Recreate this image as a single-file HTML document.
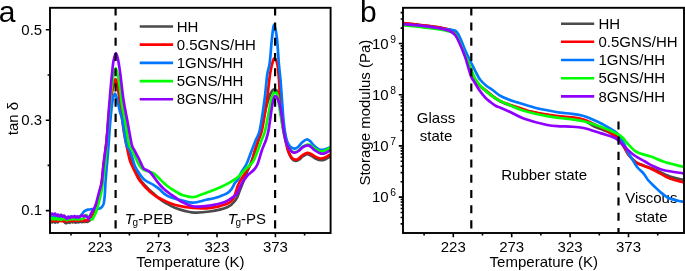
<!DOCTYPE html>
<html><head><meta charset="utf-8"><style>
html,body{margin:0;padding:0;background:#fff;width:685px;height:271px;overflow:hidden}
svg{display:block}
#w{width:685px;height:271px;will-change:transform}
text{fill:#000;font-family:"Liberation Sans",sans-serif}
</style></head><body><div id="w">
<svg width="685" height="271" viewBox="0 0 685 271" font-family="'Liberation Sans', sans-serif">
<defs>
<clipPath id="cl"><rect x="50" y="7.8" width="280.6" height="225.2"/></clipPath>
<clipPath id="cr"><rect x="403" y="7.8" width="281" height="225.2"/></clipPath>
</defs>
<rect width="685" height="271" fill="#fff"/>
<text x="651.3" y="203.2" font-size="15" text-anchor="middle" >Viscous</text>
<text x="651.3" y="221.8" font-size="15" text-anchor="middle" >state</text>
<g fill="none" stroke-width="2.7" stroke-linejoin="round" stroke-linecap="round">
<path d="M50.50,221.50 C50.75,221.65 51.50,222.43 52.00,222.40 C52.50,222.37 53.00,221.27 53.50,221.30 C54.00,221.33 54.50,222.55 55.00,222.60 C55.50,222.65 56.00,221.67 56.50,221.60 C57.00,221.53 57.50,222.55 58.00,222.20 C58.50,221.85 59.08,220.67 59.50,219.50 C59.92,218.33 60.08,215.82 60.50,215.20 C60.92,214.58 61.50,214.87 62.00,215.80 C62.50,216.73 63.00,219.67 63.50,220.80 C64.00,221.93 64.50,222.20 65.00,222.60 C65.50,223.00 66.00,223.28 66.50,223.20 C67.00,223.12 67.50,222.17 68.00,222.10 C68.50,222.03 69.00,222.88 69.50,222.80 C70.00,222.72 70.50,221.67 71.00,221.60 C71.50,221.53 72.00,222.42 72.50,222.40 C73.00,222.38 73.50,221.45 74.00,221.50 C74.50,221.55 75.00,222.65 75.50,222.70 C76.00,222.75 76.50,221.87 77.00,221.80 C77.50,221.73 78.00,222.37 78.50,222.30 C79.00,222.23 79.50,221.42 80.00,221.40 C80.50,221.38 81.00,222.18 81.50,222.20 C82.00,222.22 82.50,221.53 83.00,221.50 C83.50,221.47 84.00,222.05 84.50,222.00 C85.00,221.95 85.50,221.23 86.00,221.20 C86.50,221.17 87.00,221.83 87.50,221.80 C88.00,221.77 88.50,221.38 89.00,221.00 C89.50,220.62 90.00,220.20 90.50,219.50 C91.00,218.80 91.50,217.80 92.00,216.80 C92.50,215.80 93.00,214.63 93.50,213.50 C94.00,212.37 94.48,211.33 95.00,210.00 C95.52,208.67 96.13,206.83 96.60,205.50 C97.07,204.17 97.43,203.00 97.80,202.00 C98.17,201.00 98.33,201.50 98.80,199.50 C99.27,197.50 100.07,192.92 100.60,190.00 C101.13,187.08 101.43,186.17 102.00,182.00 C102.57,177.83 103.38,170.33 104.00,165.00 C104.62,159.67 105.10,155.83 105.70,150.00 C106.30,144.17 107.02,136.67 107.60,130.00 C108.18,123.33 108.55,116.17 109.20,110.00 C109.85,103.83 110.78,97.17 111.50,93.00 C112.22,88.83 112.82,86.92 113.50,85.00 C114.18,83.08 114.93,81.50 115.60,81.50 C116.27,81.50 116.93,82.75 117.50,85.00 C118.07,87.25 118.42,90.83 119.00,95.00 C119.58,99.17 120.12,104.17 121.00,110.00 C121.88,115.83 123.08,123.33 124.30,130.00 C125.52,136.67 127.22,145.00 128.30,150.00 C129.38,155.00 130.02,157.33 130.80,160.00 C131.58,162.67 132.05,163.83 133.00,166.00 C133.95,168.17 135.33,170.75 136.50,173.00 C137.67,175.25 138.67,177.50 140.00,179.50 C141.33,181.50 142.83,183.17 144.50,185.00 C146.17,186.83 148.48,189.08 150.00,190.50 C151.52,191.92 152.27,192.33 153.60,193.50 C154.93,194.67 156.10,196.00 158.00,197.50 C159.90,199.00 162.10,200.75 165.00,202.50 C167.90,204.25 170.93,206.37 175.40,208.00 C179.87,209.63 186.12,211.72 191.80,212.30 C197.48,212.88 203.60,212.33 209.50,211.50 C215.40,210.67 222.87,209.17 227.20,207.30 C231.53,205.43 233.37,203.18 235.50,200.30 C237.63,197.42 238.08,194.72 240.00,190.00 C241.92,185.28 245.00,177.00 247.00,172.00 C249.00,167.00 249.87,166.17 252.00,160.00 C254.13,153.83 257.55,143.33 259.80,135.00 C262.05,126.67 264.00,116.17 265.50,110.00 C267.00,103.83 267.72,101.17 268.80,98.00 C269.88,94.83 270.97,92.42 272.00,91.00 C273.03,89.58 274.00,89.17 275.00,89.50 C276.00,89.83 277.25,90.42 278.00,93.00 C278.75,95.58 279.00,101.33 279.50,105.00 C280.00,108.67 280.42,111.67 281.00,115.00 C281.58,118.33 282.42,122.17 283.00,125.00 C283.58,127.83 283.92,129.00 284.50,132.00 C285.08,135.00 285.75,139.50 286.50,143.00 C287.25,146.50 288.08,150.33 289.00,153.00 C289.92,155.67 290.92,157.67 292.00,159.00 C293.08,160.33 294.33,160.90 295.50,161.00 C296.67,161.10 297.75,160.40 299.00,159.60 C300.25,158.80 301.65,157.10 303.00,156.20 C304.35,155.30 305.77,154.30 307.10,154.20 C308.43,154.10 309.68,154.93 311.00,155.60 C312.32,156.27 313.43,157.43 315.00,158.20 C316.57,158.97 318.73,160.00 320.40,160.20 C322.07,160.40 323.40,160.02 325.00,159.40 C326.60,158.78 329.17,156.98 330.00,156.50" stroke="#4a4a4a" clip-path="url(#cl)"/>
<path d="M50.50,219.80 C50.75,220.05 51.50,221.23 52.00,221.30 C52.50,221.37 53.00,220.25 53.50,220.20 C54.00,220.15 54.50,220.97 55.00,221.00 C55.50,221.03 56.00,220.33 56.50,220.40 C57.00,220.47 57.50,221.45 58.00,221.40 C58.50,221.35 59.00,220.13 59.50,220.10 C60.00,220.07 60.50,221.12 61.00,221.20 C61.50,221.28 62.00,220.53 62.50,220.60 C63.00,220.67 63.50,221.65 64.00,221.60 C64.50,221.55 65.00,220.33 65.50,220.30 C66.00,220.27 66.50,221.37 67.00,221.40 C67.50,221.43 68.00,220.53 68.50,220.50 C69.00,220.47 69.50,221.28 70.00,221.20 C70.50,221.12 71.00,220.05 71.50,220.00 C72.00,219.95 72.50,220.87 73.00,220.90 C73.50,220.93 74.00,220.17 74.50,220.20 C75.00,220.23 75.50,221.15 76.00,221.10 C76.50,221.05 77.00,219.97 77.50,219.90 C78.00,219.83 78.50,220.67 79.00,220.70 C79.50,220.73 80.00,220.07 80.50,220.10 C81.00,220.13 81.50,220.88 82.00,220.90 C82.50,220.92 83.00,220.22 83.50,220.20 C84.00,220.18 84.50,220.85 85.00,220.80 C85.50,220.75 86.00,219.95 86.50,219.90 C87.00,219.85 87.50,220.62 88.00,220.50 C88.50,220.38 89.00,219.87 89.50,219.20 C90.00,218.53 90.48,217.53 91.00,216.50 C91.52,215.47 92.07,214.17 92.60,213.00 C93.13,211.83 93.63,210.83 94.20,209.50 C94.77,208.17 95.50,206.25 96.00,205.00 C96.50,203.75 96.82,202.92 97.20,202.00 C97.58,201.08 97.80,201.50 98.30,199.50 C98.80,197.50 99.63,192.92 100.20,190.00 C100.77,187.08 101.15,186.17 101.70,182.00 C102.25,177.83 102.87,170.33 103.50,165.00 C104.13,159.67 104.63,157.50 105.50,150.00 C106.37,142.50 107.82,128.33 108.70,120.00 C109.58,111.67 110.18,105.00 110.80,100.00 C111.42,95.00 111.87,93.00 112.40,90.00 C112.93,87.00 113.53,83.78 114.00,82.00 C114.47,80.22 114.77,79.47 115.20,79.30 C115.63,79.13 116.08,79.22 116.60,81.00 C117.12,82.78 117.73,86.83 118.30,90.00 C118.87,93.17 119.12,93.33 120.00,100.00 C120.88,106.67 122.35,121.67 123.60,130.00 C124.85,138.33 126.47,145.00 127.50,150.00 C128.53,155.00 129.02,157.33 129.80,160.00 C130.58,162.67 131.25,163.83 132.20,166.00 C133.15,168.17 134.40,170.78 135.50,173.00 C136.60,175.22 137.55,177.38 138.80,179.30 C140.05,181.22 141.52,182.80 143.00,184.50 C144.48,186.20 146.23,188.03 147.70,189.50 C149.17,190.97 150.25,192.05 151.80,193.30 C153.35,194.55 155.03,195.83 157.00,197.00 C158.97,198.17 160.53,198.97 163.60,200.30 C166.67,201.63 170.50,203.72 175.40,205.00 C180.30,206.28 187.12,207.52 193.00,208.00 C198.88,208.48 205.00,208.60 210.70,207.90 C216.40,207.20 223.48,205.27 227.20,203.80 C230.92,202.33 231.62,200.90 233.00,199.10 C234.38,197.30 234.50,195.68 235.50,193.00 C236.50,190.32 237.05,186.83 239.00,183.00 C240.95,179.17 245.07,173.50 247.20,170.00 C249.33,166.50 250.50,165.33 251.80,162.00 C253.10,158.67 253.88,153.67 255.00,150.00 C256.12,146.33 257.33,143.33 258.50,140.00 C259.67,136.67 260.60,136.67 262.00,130.00 C263.40,123.33 265.53,109.50 266.90,100.00 C268.27,90.50 269.18,79.50 270.20,73.00 C271.22,66.50 272.20,63.42 273.00,61.00 C273.80,58.58 274.25,57.83 275.00,58.50 C275.75,59.17 276.83,61.42 277.50,65.00 C278.17,68.58 278.58,74.17 279.00,80.00 C279.42,85.83 279.63,94.17 280.00,100.00 C280.37,105.83 280.78,110.83 281.20,115.00 C281.62,119.17 282.03,122.17 282.50,125.00 C282.97,127.83 283.42,129.00 284.00,132.00 C284.58,135.00 285.25,139.67 286.00,143.00 C286.75,146.33 287.50,149.50 288.50,152.00 C289.50,154.50 290.83,156.72 292.00,158.00 C293.17,159.28 294.33,159.65 295.50,159.70 C296.67,159.75 297.75,159.12 299.00,158.30 C300.25,157.48 301.65,155.72 303.00,154.80 C304.35,153.88 305.77,152.93 307.10,152.80 C308.43,152.67 309.68,153.38 311.00,154.00 C312.32,154.62 313.43,155.75 315.00,156.50 C316.57,157.25 318.73,158.33 320.40,158.50 C322.07,158.67 323.40,158.13 325.00,157.50 C326.60,156.87 329.17,155.17 330.00,154.70" stroke="#ff0000" clip-path="url(#cl)"/>
<path d="M50.50,216.50 C50.75,216.68 51.50,217.62 52.00,217.60 C52.50,217.58 53.00,216.37 53.50,216.40 C54.00,216.43 54.50,217.73 55.00,217.80 C55.50,217.87 56.00,216.85 56.50,216.80 C57.00,216.75 57.50,217.58 58.00,217.50 C58.50,217.42 59.00,216.32 59.50,216.30 C60.00,216.28 60.50,217.33 61.00,217.40 C61.50,217.47 62.00,216.62 62.50,216.70 C63.00,216.78 63.50,217.87 64.00,217.90 C64.50,217.93 65.00,216.95 65.50,216.90 C66.00,216.85 66.50,217.65 67.00,217.60 C67.50,217.55 68.00,216.65 68.50,216.60 C69.00,216.55 69.50,217.32 70.00,217.30 C70.50,217.28 71.00,216.48 71.50,216.50 C72.00,216.52 72.50,217.38 73.00,217.40 C73.50,217.42 74.00,216.63 74.50,216.60 C75.00,216.57 75.50,217.23 76.00,217.20 C76.50,217.17 77.00,216.45 77.50,216.40 C78.00,216.35 78.50,216.97 79.00,216.90 C79.50,216.83 79.92,216.57 80.50,216.00 C81.08,215.43 81.83,214.30 82.50,213.50 C83.17,212.70 83.58,211.85 84.50,211.20 C85.42,210.55 86.75,209.93 88.00,209.60 C89.25,209.27 90.83,209.30 92.00,209.20 C93.17,209.10 94.08,209.07 95.00,209.00 C95.92,208.93 96.72,208.87 97.50,208.80 C98.28,208.73 98.95,208.93 99.70,208.60 C100.45,208.27 101.35,207.57 102.00,206.80 C102.65,206.03 103.18,205.47 103.60,204.00 C104.02,202.53 104.25,200.33 104.50,198.00 C104.75,195.67 104.93,192.67 105.10,190.00 C105.27,187.33 105.20,186.17 105.50,182.00 C105.80,177.83 106.45,170.33 106.90,165.00 C107.35,159.67 107.62,157.50 108.20,150.00 C108.78,142.50 109.68,128.17 110.40,120.00 C111.12,111.83 111.73,105.40 112.50,101.00 C113.27,96.60 114.17,93.60 115.00,93.60 C115.83,93.60 116.67,97.93 117.50,101.00 C118.33,104.07 119.20,108.83 120.00,112.00 C120.80,115.17 121.25,114.67 122.30,120.00 C123.35,125.33 125.08,139.00 126.30,144.00 C127.52,149.00 128.58,147.67 129.60,150.00 C130.62,152.33 131.52,155.33 132.40,158.00 C133.28,160.67 133.97,163.75 134.90,166.00 C135.83,168.25 136.90,169.73 138.00,171.50 C139.10,173.27 140.42,175.22 141.50,176.60 C142.58,177.98 143.47,178.92 144.50,179.80 C145.53,180.68 146.28,181.10 147.70,181.90 C149.12,182.70 151.53,183.75 153.00,184.60 C154.47,185.45 155.32,186.13 156.50,187.00 C157.68,187.87 158.92,188.77 160.10,189.80 C161.28,190.83 161.95,192.00 163.60,193.20 C165.25,194.40 167.05,195.82 170.00,197.00 C172.95,198.18 177.47,199.35 181.30,200.30 C185.13,201.25 188.80,202.78 193.00,202.70 C197.20,202.62 203.17,200.50 206.50,199.80 C209.83,199.10 210.78,199.07 213.00,198.50 C215.22,197.93 217.48,197.27 219.80,196.40 C222.12,195.53 224.98,194.48 226.90,193.30 C228.82,192.12 229.97,191.00 231.30,189.30 C232.63,187.60 233.72,184.87 234.90,183.10 C236.08,181.33 237.33,180.47 238.40,178.70 C239.47,176.93 239.95,174.95 241.30,172.50 C242.65,170.05 245.05,166.92 246.50,164.00 C247.95,161.08 248.45,159.00 250.00,155.00 C251.55,151.00 254.17,144.17 255.80,140.00 C257.43,135.83 258.35,136.67 259.80,130.00 C261.25,123.33 263.27,109.17 264.50,100.00 C265.73,90.83 266.33,81.17 267.20,75.00 C268.07,68.83 268.92,69.00 269.70,63.00 C270.48,57.00 271.15,45.42 271.90,39.00 C272.65,32.58 273.35,24.50 274.20,24.50 C275.05,24.50 276.23,32.58 277.00,39.00 C277.77,45.42 278.22,56.17 278.80,63.00 C279.38,69.83 279.97,73.83 280.50,80.00 C281.03,86.17 281.50,93.33 282.00,100.00 C282.50,106.67 283.00,114.67 283.50,120.00 C284.00,125.33 284.42,128.50 285.00,132.00 C285.58,135.50 286.17,138.58 287.00,141.00 C287.83,143.42 288.77,145.23 290.00,146.50 C291.23,147.77 293.07,148.52 294.40,148.60 C295.73,148.68 296.73,148.02 298.00,147.00 C299.27,145.98 300.58,143.75 302.00,142.50 C303.42,141.25 305.17,139.75 306.50,139.50 C307.83,139.25 308.75,140.00 310.00,141.00 C311.25,142.00 312.37,144.05 314.00,145.50 C315.63,146.95 317.97,149.07 319.80,149.70 C321.63,150.33 323.30,149.70 325.00,149.30 C326.70,148.90 329.17,147.63 330.00,147.30" stroke="#0077ff" clip-path="url(#cl)"/>
<path d="M50.50,217.50 C50.75,217.80 51.50,219.18 52.00,219.30 C52.50,219.42 53.00,218.17 53.50,218.20 C54.00,218.23 54.50,219.48 55.00,219.50 C55.50,219.52 56.00,218.28 56.50,218.30 C57.00,218.32 57.50,219.55 58.00,219.60 C58.50,219.65 59.00,218.57 59.50,218.60 C60.00,218.63 60.50,219.83 61.00,219.80 C61.50,219.77 62.00,218.50 62.50,218.40 C63.00,218.30 63.50,219.12 64.00,219.20 C64.50,219.28 65.00,218.73 65.50,218.90 C66.00,219.07 66.50,220.22 67.00,220.20 C67.50,220.18 68.00,218.90 68.50,218.80 C69.00,218.70 69.50,219.65 70.00,219.60 C70.50,219.55 71.00,218.55 71.50,218.50 C72.00,218.45 72.50,219.28 73.00,219.30 C73.50,219.32 74.00,218.57 74.50,218.60 C75.00,218.63 75.50,219.48 76.00,219.50 C76.50,219.52 77.00,218.72 77.50,218.70 C78.00,218.68 78.50,219.43 79.00,219.40 C79.50,219.37 80.00,218.53 80.50,218.50 C81.00,218.47 81.50,219.25 82.00,219.20 C82.50,219.15 83.00,218.65 83.50,218.20 C84.00,217.75 84.50,217.03 85.00,216.50 C85.50,215.97 86.00,214.95 86.50,215.00 C87.00,215.05 87.50,216.20 88.00,216.80 C88.50,217.40 89.00,218.18 89.50,218.60 C90.00,219.02 90.50,219.20 91.00,219.30 C91.50,219.40 92.05,219.58 92.50,219.20 C92.95,218.82 93.25,217.87 93.70,217.00 C94.15,216.13 94.72,215.08 95.20,214.00 C95.68,212.92 96.17,211.83 96.60,210.50 C97.03,209.17 97.32,207.75 97.80,206.00 C98.28,204.25 98.83,202.67 99.50,200.00 C100.17,197.33 101.22,193.33 101.80,190.00 C102.38,186.67 102.38,185.00 103.00,180.00 C103.62,175.00 104.58,170.00 105.50,160.00 C106.42,150.00 107.42,132.50 108.50,120.00 C109.58,107.50 110.78,93.67 112.00,85.00 C113.22,76.33 114.55,68.00 115.80,68.00 C117.05,68.00 118.47,78.83 119.50,85.00 C120.53,91.17 121.08,99.17 122.00,105.00 C122.92,110.83 123.85,113.50 125.00,120.00 C126.15,126.50 127.72,139.00 128.90,144.00 C130.08,149.00 130.95,147.67 132.10,150.00 C133.25,152.33 134.53,155.33 135.80,158.00 C137.07,160.67 138.42,164.08 139.70,166.00 C140.98,167.92 142.03,168.58 143.50,169.50 C144.97,170.42 146.77,170.83 148.50,171.50 C150.23,172.17 152.27,172.50 153.90,173.50 C155.53,174.50 156.68,175.95 158.30,177.50 C159.92,179.05 161.98,181.30 163.60,182.80 C165.22,184.30 166.52,185.38 168.00,186.50 C169.48,187.62 171.00,188.53 172.50,189.50 C174.00,190.47 175.25,191.33 177.00,192.30 C178.75,193.27 180.43,194.48 183.00,195.30 C185.57,196.12 189.73,197.17 192.40,197.20 C195.07,197.23 196.65,196.23 199.00,195.50 C201.35,194.77 204.17,193.67 206.50,192.80 C208.83,191.93 210.78,191.18 213.00,190.30 C215.22,189.42 217.18,188.70 219.80,187.50 C222.42,186.30 225.90,184.65 228.70,183.10 C231.50,181.55 234.63,179.63 236.60,178.20 C238.57,176.77 239.13,175.87 240.50,174.50 C241.87,173.13 243.05,171.75 244.80,170.00 C246.55,168.25 249.47,165.67 251.00,164.00 C252.53,162.33 252.83,162.33 254.00,160.00 C255.17,157.67 256.73,153.33 258.00,150.00 C259.27,146.67 260.38,143.33 261.60,140.00 C262.82,136.67 263.70,136.67 265.30,130.00 C266.90,123.33 269.83,106.07 271.20,100.00 C272.57,93.93 272.83,94.93 273.50,93.60 C274.17,92.27 274.53,91.77 275.20,92.00 C275.87,92.23 276.87,92.83 277.50,95.00 C278.13,97.17 278.33,100.83 279.00,105.00 C279.67,109.17 280.75,115.50 281.50,120.00 C282.25,124.50 282.75,128.33 283.50,132.00 C284.25,135.67 285.08,139.28 286.00,142.00 C286.92,144.72 288.00,146.75 289.00,148.30 C290.00,149.85 291.00,150.68 292.00,151.30 C293.00,151.92 293.92,152.13 295.00,152.00 C296.08,151.87 297.17,151.42 298.50,150.50 C299.83,149.58 301.47,147.48 303.00,146.50 C304.53,145.52 306.37,144.75 307.70,144.60 C309.03,144.45 309.78,144.93 311.00,145.60 C312.22,146.27 313.33,147.62 315.00,148.60 C316.67,149.58 319.17,151.23 321.00,151.50 C322.83,151.77 324.50,150.83 326.00,150.20 C327.50,149.57 329.33,148.12 330.00,147.70" stroke="#00ff00" clip-path="url(#cl)"/>
<path d="M50.50,215.00 C50.75,214.75 51.50,213.57 52.00,213.50 C52.50,213.43 53.00,214.58 53.50,214.60 C54.00,214.62 54.50,213.45 55.00,213.60 C55.50,213.75 56.00,215.33 56.50,215.50 C57.00,215.67 57.50,214.48 58.00,214.60 C58.50,214.72 59.00,216.13 59.50,216.20 C60.00,216.27 60.50,214.93 61.00,215.00 C61.50,215.07 62.00,216.50 62.50,216.60 C63.00,216.70 63.50,215.43 64.00,215.60 C64.50,215.77 65.00,217.07 65.50,217.60 C66.00,218.13 66.50,218.90 67.00,218.80 C67.50,218.70 68.00,217.15 68.50,217.00 C69.00,216.85 69.50,218.00 70.00,217.90 C70.50,217.80 71.00,216.52 71.50,216.40 C72.00,216.28 72.50,217.23 73.00,217.20 C73.50,217.17 74.00,216.13 74.50,216.20 C75.00,216.27 75.50,217.52 76.00,217.60 C76.50,217.68 77.00,216.73 77.50,216.70 C78.00,216.67 78.50,217.48 79.00,217.40 C79.50,217.32 80.00,216.53 80.50,216.20 C81.00,215.87 81.50,215.37 82.00,215.40 C82.50,215.43 83.00,216.35 83.50,216.40 C84.00,216.45 84.50,215.67 85.00,215.70 C85.50,215.73 86.00,216.28 86.50,216.60 C87.00,216.92 87.62,217.17 88.00,217.60 C88.38,218.03 88.43,219.55 88.80,219.20 C89.17,218.85 89.58,216.87 90.20,215.50 C90.82,214.13 91.77,212.33 92.50,211.00 C93.23,209.67 94.02,208.67 94.60,207.50 C95.18,206.33 95.60,205.25 96.00,204.00 C96.40,202.75 96.62,201.50 97.00,200.00 C97.38,198.50 97.88,196.58 98.30,195.00 C98.72,193.42 98.92,192.67 99.50,190.50 C100.08,188.33 101.13,186.25 101.80,182.00 C102.47,177.75 102.90,170.33 103.50,165.00 C104.10,159.67 104.92,153.50 105.40,150.00 C105.88,146.50 105.95,149.00 106.40,144.00 C106.85,139.00 107.45,128.67 108.10,120.00 C108.75,111.33 109.65,99.67 110.30,92.00 C110.95,84.33 111.47,79.17 112.00,74.00 C112.53,68.83 112.83,64.50 113.50,61.00 C114.17,57.50 115.20,53.00 116.00,53.00 C116.80,53.00 117.58,57.50 118.30,61.00 C119.02,64.50 119.43,67.50 120.30,74.00 C121.17,80.50 122.35,92.33 123.50,100.00 C124.65,107.67 125.85,112.67 127.20,120.00 C128.55,127.33 130.42,139.00 131.60,144.00 C132.78,149.00 133.15,147.67 134.30,150.00 C135.45,152.33 137.25,155.50 138.50,158.00 C139.75,160.50 140.95,163.27 141.80,165.00 C142.65,166.73 142.62,167.47 143.60,168.40 C144.58,169.33 146.43,169.75 147.70,170.60 C148.97,171.45 149.73,171.83 151.20,173.50 C152.67,175.17 154.95,178.60 156.50,180.60 C158.05,182.60 159.17,184.02 160.50,185.50 C161.83,186.98 163.08,188.25 164.50,189.50 C165.92,190.75 167.18,191.70 169.00,193.00 C170.82,194.30 173.23,195.80 175.40,197.30 C177.57,198.80 178.87,200.47 182.00,202.00 C185.13,203.53 189.62,205.90 194.20,206.50 C198.78,207.10 204.40,206.35 209.50,205.60 C214.60,204.85 220.67,203.58 224.80,202.00 C228.93,200.42 232.13,197.77 234.30,196.10 C236.47,194.43 236.63,193.98 237.80,192.00 C238.97,190.02 239.77,186.87 241.30,184.20 C242.83,181.53 244.93,178.37 247.00,176.00 C249.07,173.63 251.93,172.00 253.70,170.00 C255.47,168.00 256.22,167.33 257.60,164.00 C258.98,160.67 260.60,154.00 262.00,150.00 C263.40,146.00 264.90,143.33 266.00,140.00 C267.10,136.67 267.68,135.00 268.60,130.00 C269.52,125.00 270.72,115.00 271.50,110.00 C272.28,105.00 272.68,102.33 273.30,100.00 C273.92,97.67 274.38,96.00 275.20,96.00 C276.02,96.00 277.27,97.67 278.20,100.00 C279.13,102.33 280.12,106.67 280.80,110.00 C281.48,113.33 281.80,116.33 282.30,120.00 C282.80,123.67 283.18,128.33 283.80,132.00 C284.42,135.67 285.13,139.25 286.00,142.00 C286.87,144.75 288.00,146.87 289.00,148.50 C290.00,150.13 291.00,151.12 292.00,151.80 C293.00,152.48 293.92,152.73 295.00,152.60 C296.08,152.47 297.17,151.93 298.50,151.00 C299.83,150.07 301.47,147.95 303.00,147.00 C304.53,146.05 306.37,145.33 307.70,145.30 C309.03,145.27 309.78,145.93 311.00,146.80 C312.22,147.67 313.33,149.37 315.00,150.50 C316.67,151.63 319.17,153.22 321.00,153.60 C322.83,153.98 324.50,153.32 326.00,152.80 C327.50,152.28 329.33,150.88 330.00,150.50" stroke="#9000ff" clip-path="url(#cl)"/>
<path d="M403.50,23.40 C406.25,23.67 413.92,24.32 420.00,25.00 C426.08,25.68 435.00,26.67 440.00,27.50 C445.00,28.33 447.50,29.08 450.00,30.00 C452.50,30.92 453.33,31.00 455.00,33.00 C456.67,35.00 458.17,37.83 460.00,42.00 C461.83,46.17 464.00,52.67 466.00,58.00 C468.00,63.33 470.00,69.67 472.00,74.00 C474.00,78.33 475.83,81.25 478.00,84.00 C480.17,86.75 481.33,87.63 485.00,90.50 C488.67,93.37 493.57,98.00 500.00,101.20 C506.43,104.40 515.73,107.40 523.60,109.70 C531.47,112.00 541.13,113.82 547.20,115.00 C553.27,116.18 555.37,116.22 560.00,116.80 C564.63,117.38 570.83,117.80 575.00,118.50 C579.17,119.20 582.00,119.80 585.00,121.00 C588.00,122.20 589.30,123.93 593.00,125.70 C596.70,127.47 603.87,130.13 607.20,131.60 C610.53,133.07 611.20,133.43 613.00,134.50 C614.80,135.57 616.17,135.92 618.00,138.00 C619.83,140.08 622.17,144.17 624.00,147.00 C625.83,149.83 627.00,152.42 629.00,155.00 C631.00,157.58 632.13,160.25 636.00,162.50 C639.87,164.75 646.55,166.17 652.20,168.50 C657.85,170.83 664.77,174.62 669.90,176.50 C675.03,178.38 680.82,179.25 683.00,179.80" stroke="#4a4a4a" clip-path="url(#cr)"/>
<path d="M403.50,23.10 C406.25,23.42 413.92,24.27 420.00,25.00 C426.08,25.73 435.00,26.68 440.00,27.50 C445.00,28.32 447.50,29.07 450.00,29.90 C452.50,30.73 453.33,30.57 455.00,32.50 C456.67,34.43 458.17,37.42 460.00,41.50 C461.83,45.58 464.00,51.67 466.00,57.00 C468.00,62.33 470.00,69.08 472.00,73.50 C474.00,77.92 475.77,80.75 478.00,83.50 C480.23,86.25 481.73,87.10 485.40,90.00 C489.07,92.90 493.63,97.70 500.00,100.90 C506.37,104.10 518.77,107.47 523.60,109.20 C528.43,110.93 525.07,110.42 529.00,111.30 C532.93,112.18 542.03,113.67 547.20,114.50 C552.37,115.33 555.87,115.82 560.00,116.30 C564.13,116.78 568.07,116.85 572.00,117.40 C575.93,117.95 580.27,118.63 583.60,119.60 C586.93,120.57 589.05,121.87 592.00,123.20 C594.95,124.53 598.63,126.23 601.30,127.60 C603.97,128.97 605.63,130.05 608.00,131.40 C610.37,132.75 613.50,134.27 615.50,135.70 C617.50,137.13 618.60,138.20 620.00,140.00 C621.40,141.80 622.47,144.00 623.90,146.50 C625.33,149.00 626.63,152.42 628.60,155.00 C630.57,157.58 633.80,160.42 635.70,162.00 C637.60,163.58 637.25,163.30 640.00,164.50 C642.75,165.70 647.22,166.85 652.20,169.20 C657.18,171.55 664.77,176.45 669.90,178.60 C675.03,180.75 680.82,181.52 683.00,182.10" stroke="#ff0000" clip-path="url(#cr)"/>
<path d="M403.50,24.30 C406.25,24.58 413.92,25.25 420.00,26.00 C426.08,26.75 435.00,28.20 440.00,28.80 C445.00,29.40 447.45,29.30 450.00,29.60 C452.55,29.90 453.97,29.90 455.30,30.60 C456.63,31.30 457.02,32.13 458.00,33.80 C458.98,35.47 459.95,37.73 461.20,40.60 C462.45,43.47 464.07,47.77 465.50,51.00 C466.93,54.23 467.87,56.08 469.80,60.00 C471.73,63.92 475.40,71.25 477.10,74.50 C478.80,77.75 478.52,77.67 480.00,79.50 C481.48,81.33 483.92,83.75 486.00,85.50 C488.08,87.25 490.25,88.37 492.50,90.00 C494.75,91.63 496.92,93.75 499.50,95.30 C502.08,96.85 505.05,98.12 508.00,99.30 C510.95,100.48 512.72,101.00 517.20,102.40 C521.68,103.80 529.90,106.38 534.90,107.70 C539.90,109.02 543.02,109.48 547.20,110.30 C551.38,111.12 555.87,112.00 560.00,112.60 C564.13,113.20 568.07,113.33 572.00,113.90 C575.93,114.47 580.27,115.12 583.60,116.00 C586.93,116.88 589.05,117.95 592.00,119.20 C594.95,120.45 598.47,122.05 601.30,123.50 C604.13,124.95 606.45,126.35 609.00,127.90 C611.55,129.45 614.43,130.78 616.60,132.80 C618.77,134.82 620.00,136.53 622.00,140.00 C624.00,143.47 626.93,150.52 628.60,153.60 C630.27,156.68 630.62,156.30 632.00,158.50 C633.38,160.70 634.92,164.23 636.90,166.80 C638.88,169.37 642.05,171.70 643.90,173.90 C645.75,176.10 646.15,177.82 648.00,180.00 C649.85,182.18 653.00,185.05 655.00,187.00 C657.00,188.95 657.75,189.87 660.00,191.70 C662.25,193.53 665.48,196.48 668.50,198.00 C671.52,199.52 675.60,200.18 678.10,200.80 C680.60,201.42 682.60,201.55 683.50,201.70" stroke="#0077ff" clip-path="url(#cr)"/>
<path d="M403.50,25.30 C406.25,25.58 413.92,26.33 420.00,27.00 C426.08,27.67 435.00,28.53 440.00,29.30 C445.00,30.07 447.50,30.82 450.00,31.60 C452.50,32.38 453.33,32.10 455.00,34.00 C456.67,35.90 458.50,39.83 460.00,43.00 C461.50,46.17 462.62,49.83 464.00,53.00 C465.38,56.17 466.32,57.50 468.30,62.00 C470.28,66.50 473.25,75.42 475.90,80.00 C478.55,84.58 481.25,86.63 484.20,89.50 C487.15,92.37 490.97,95.30 493.60,97.20 C496.23,99.10 497.43,99.63 500.00,100.90 C502.57,102.17 504.75,103.07 509.00,104.80 C513.25,106.53 519.13,109.40 525.50,111.30 C531.87,113.20 541.45,115.08 547.20,116.20 C552.95,117.32 555.87,117.48 560.00,118.00 C564.13,118.52 568.07,118.77 572.00,119.30 C575.93,119.83 580.27,120.45 583.60,121.20 C586.93,121.95 589.05,122.83 592.00,123.80 C594.95,124.77 598.30,125.90 601.30,127.00 C604.30,128.10 607.25,129.20 610.00,130.40 C612.75,131.60 615.68,132.97 617.80,134.20 C619.92,135.43 621.17,136.33 622.70,137.80 C624.23,139.27 625.03,140.87 627.00,143.00 C628.97,145.13 632.27,148.83 634.50,150.60 C636.73,152.37 637.45,152.53 640.40,153.60 C643.35,154.67 648.27,155.63 652.20,157.00 C656.13,158.37 658.87,160.17 664.00,161.80 C669.13,163.43 679.83,165.97 683.00,166.80" stroke="#00ff00" clip-path="url(#cr)"/>
<path d="M403.50,24.20 C406.25,24.43 415.58,25.17 420.00,25.60 C424.42,26.03 426.67,26.35 430.00,26.80 C433.33,27.25 437.50,27.85 440.00,28.30 C442.50,28.75 443.33,29.05 445.00,29.50 C446.67,29.95 448.28,30.03 450.00,31.00 C451.72,31.97 453.63,33.10 455.30,35.30 C456.97,37.50 458.42,40.75 460.00,44.20 C461.58,47.65 463.63,52.87 464.80,56.00 C465.97,59.13 465.93,59.52 467.00,63.00 C468.07,66.48 470.12,73.98 471.20,76.90 C472.28,79.82 472.22,78.40 473.50,80.50 C474.78,82.60 476.93,86.63 478.90,89.50 C480.87,92.37 483.28,95.53 485.30,97.70 C487.32,99.87 489.22,101.12 491.00,102.50 C492.78,103.88 494.50,105.15 496.00,106.00 C497.50,106.85 497.65,106.60 500.00,107.60 C502.35,108.60 506.17,110.20 510.10,112.00 C514.03,113.80 517.42,116.23 523.60,118.40 C529.78,120.57 541.13,123.68 547.20,125.00 C553.27,126.32 556.20,126.03 560.00,126.30 C563.80,126.57 566.07,126.32 570.00,126.60 C573.93,126.88 578.38,126.87 583.60,128.00 C588.82,129.13 596.90,132.07 601.30,133.40 C605.70,134.73 607.63,135.18 610.00,136.00 C612.37,136.82 614.00,137.47 615.50,138.30 C617.00,139.13 617.22,139.33 619.00,141.00 C620.78,142.67 623.62,145.88 626.20,148.30 C628.78,150.72 631.37,153.30 634.50,155.50 C637.63,157.70 642.05,159.82 645.00,161.50 C647.95,163.18 649.03,164.13 652.20,165.60 C655.37,167.07 658.87,169.02 664.00,170.30 C669.13,171.58 679.83,172.80 683.00,173.30" stroke="#9000ff" clip-path="url(#cr)"/>
</g>
<g stroke="#000" stroke-width="2.2" fill="none" stroke-dasharray="8.1 7.12">
<path d="M115.6,7.28 V233"/>
<path d="M275.1,7.28 V233"/>
<path d="M471.3,7.28 V233"/>
<path d="M618.5,121.4 V233"/>
</g>
<g fill="none" stroke="#000" stroke-width="1.9">
<rect x="50" y="7.8" width="280.6" height="225.2"/>
<rect x="403" y="7.8" width="281" height="225.2"/>
<path d="M100.20,233 V237.2 M158.60,233 V237.2 M217.00,233 V237.2 M275.40,233 V237.2 M71.00,233 V235.4 M129.40,233 V235.4 M187.80,233 V235.4 M246.20,233 V235.4 M304.60,233 V235.4 M50,210.60 H45.8 M50,120.20 H45.8 M50,29.80 H45.8 M50,165.40 H47.6 M50,75.00 H47.6 M453.30,233 V237.2 M511.70,233 V237.2 M570.10,233 V237.2 M628.50,233 V237.2 M424.10,233 V235.4 M482.50,233 V235.4 M540.90,233 V235.4 M599.30,233 V235.4 M657.70,233 V235.4 M403,197.10 H398.8 M403,145.90 H398.8 M403,94.70 H398.8 M403,43.50 H398.8 M403,223.87 H400.6 M403,217.47 H400.6 M403,212.51 H400.6 M403,208.46 H400.6 M403,205.03 H400.6 M403,202.06 H400.6 M403,199.44 H400.6 M403,181.69 H400.6 M403,172.67 H400.6 M403,166.27 H400.6 M403,161.31 H400.6 M403,157.26 H400.6 M403,153.83 H400.6 M403,150.86 H400.6 M403,148.24 H400.6 M403,130.49 H400.6 M403,121.47 H400.6 M403,115.07 H400.6 M403,110.11 H400.6 M403,106.06 H400.6 M403,102.63 H400.6 M403,99.66 H400.6 M403,97.04 H400.6 M403,79.29 H400.6 M403,70.27 H400.6 M403,63.87 H400.6 M403,58.91 H400.6 M403,54.86 H400.6 M403,51.43 H400.6 M403,48.46 H400.6 M403,45.84 H400.6 M403,28.09 H400.6 M403,19.07 H400.6 M403,12.67 H400.6" stroke-width="1.6"/>
</g>
<path d="M139.7,26.5 H173.1" stroke="#4a4a4a" stroke-width="2.6" fill="none"/>
<text transform="translate(176.7,31.6) scale(1,1.035)" font-size="15" text-anchor="start" >HH</text>
<path d="M139.7,44.6 H173.1" stroke="#ff0000" stroke-width="2.6" fill="none"/>
<text transform="translate(176.7,49.7) scale(1,1.035)" font-size="15" text-anchor="start" >0.5GNS/HH</text>
<path d="M139.7,62.9 H173.1" stroke="#0077ff" stroke-width="2.6" fill="none"/>
<text transform="translate(176.7,68.0) scale(1,1.035)" font-size="15" text-anchor="start" >1GNS/HH</text>
<path d="M139.7,81.1 H173.1" stroke="#00ff00" stroke-width="2.6" fill="none"/>
<text transform="translate(176.7,86.2) scale(1,1.035)" font-size="15" text-anchor="start" >5GNS/HH</text>
<path d="M139.7,99.3 H173.1" stroke="#9000ff" stroke-width="2.6" fill="none"/>
<text transform="translate(176.7,104.4) scale(1,1.035)" font-size="15" text-anchor="start" >8GNS/HH</text>
<path d="M561,23.7 H594.2" stroke="#4a4a4a" stroke-width="2.6" fill="none"/>
<text transform="translate(598.5,28.8) scale(1,1.035)" font-size="15" text-anchor="start" >HH</text>
<path d="M561,41.8 H594.2" stroke="#ff0000" stroke-width="2.6" fill="none"/>
<text transform="translate(598.5,46.9) scale(1,1.035)" font-size="15" text-anchor="start" >0.5GNS/HH</text>
<path d="M561,60 H594.2" stroke="#0077ff" stroke-width="2.6" fill="none"/>
<text transform="translate(598.5,65.1) scale(1,1.035)" font-size="15" text-anchor="start" >1GNS/HH</text>
<path d="M561,78.2 H594.2" stroke="#00ff00" stroke-width="2.6" fill="none"/>
<text transform="translate(598.5,83.3) scale(1,1.035)" font-size="15" text-anchor="start" >5GNS/HH</text>
<path d="M561,96.4 H594.2" stroke="#9000ff" stroke-width="2.6" fill="none"/>
<text transform="translate(598.5,101.5) scale(1,1.035)" font-size="15" text-anchor="start" >8GNS/HH</text>
<text x="-1.27" y="21.8" font-size="30" text-anchor="start" >a</text>
<text x="360.1" y="21.8" font-size="30" text-anchor="start" >b</text>
<text transform="translate(42.2,34.6) scale(1,1.03)" font-size="15" text-anchor="end" >0.5</text>
<text transform="translate(42.2,125.0) scale(1,1.03)" font-size="15" text-anchor="end" >0.3</text>
<text transform="translate(42.2,215.4) scale(1,1.03)" font-size="15" text-anchor="end" >0.1</text>
<text transform="translate(100.2,251.8) scale(1,1.03)" font-size="15" text-anchor="middle" >223</text>
<text transform="translate(453.3,251.8) scale(1,1.03)" font-size="15" text-anchor="middle" >223</text>
<text transform="translate(158.6,251.8) scale(1,1.03)" font-size="15" text-anchor="middle" >273</text>
<text transform="translate(511.7,251.8) scale(1,1.03)" font-size="15" text-anchor="middle" >273</text>
<text transform="translate(217.0,251.8) scale(1,1.03)" font-size="15" text-anchor="middle" >323</text>
<text transform="translate(570.1,251.8) scale(1,1.03)" font-size="15" text-anchor="middle" >323</text>
<text transform="translate(275.4,251.8) scale(1,1.03)" font-size="15" text-anchor="middle" >373</text>
<text transform="translate(628.5,251.8) scale(1,1.03)" font-size="15" text-anchor="middle" >373</text>
<text transform="translate(388.7,48.8) scale(1,1.03)" font-size="15" text-anchor="end" >10</text>
<text x="390.3" y="42.60" font-size="10.3">9</text>
<text transform="translate(388.7,100.0) scale(1,1.03)" font-size="15" text-anchor="end" >10</text>
<text x="390.3" y="93.80" font-size="10.3">8</text>
<text transform="translate(388.7,151.2) scale(1,1.03)" font-size="15" text-anchor="end" >10</text>
<text x="390.3" y="145.00" font-size="10.3">7</text>
<text transform="translate(388.7,202.4) scale(1,1.03)" font-size="15" text-anchor="end" >10</text>
<text x="390.3" y="196.20" font-size="10.3">6</text>
<text x="190.4" y="266.8" font-size="15" text-anchor="middle" >Temperature (K)</text>
<text x="543.8" y="266.8" font-size="15" text-anchor="middle" >Temperature (K)</text>
<text transform="translate(18.2,118.6) rotate(-90)" font-size="15" text-anchor="middle">tan δ</text>
<text transform="translate(369.7,112.6) rotate(-90)" font-size="15" text-anchor="middle">Storage modulus (Pa)</text>
<text x="436" y="122.7" font-size="15" text-anchor="middle" >Glass</text>
<text x="436" y="141.3" font-size="15" text-anchor="middle" >state</text>
<text x="544.2" y="180" font-size="15" text-anchor="middle" >Rubber state</text>
<text x="124.8" y="223.5" font-size="15"><tspan font-style="italic">T</tspan><tspan font-size="10" dx="-1.4" dy="2.5">g</tspan><tspan dy="-2.5">-PEB</tspan></text>
<text x="227.7" y="223.5" font-size="15"><tspan font-style="italic">T</tspan><tspan font-size="10" dx="-1.4" dy="2.5">g</tspan><tspan dy="-2.5">-PS</tspan></text>
</svg>
</div></body></html>
